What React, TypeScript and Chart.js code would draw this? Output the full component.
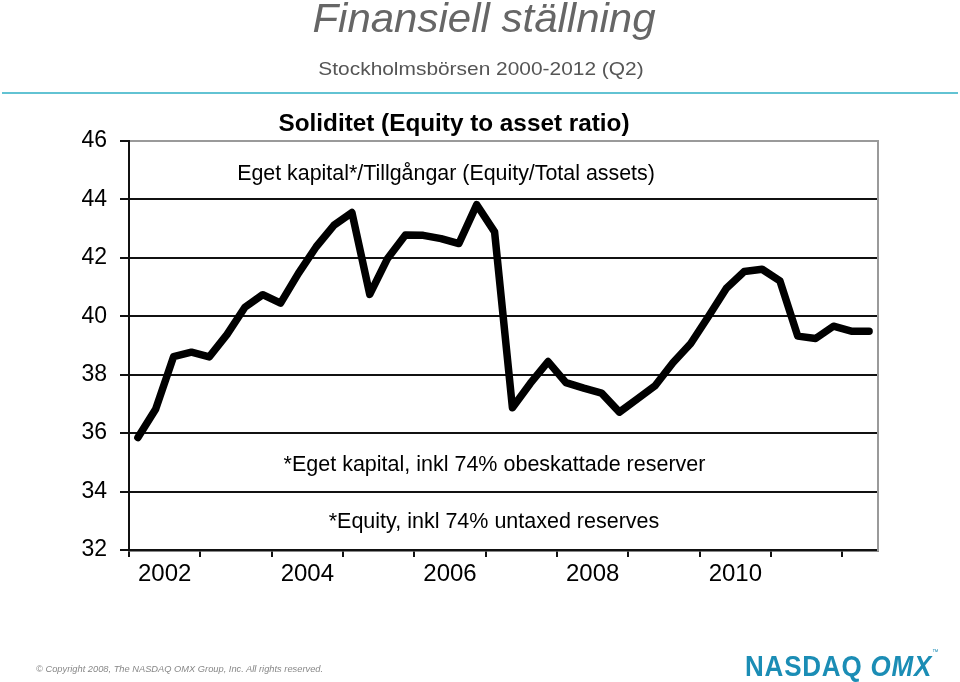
import React, { useEffect, useRef } from "react";
import { Chart, registerables } from "chart.js";

Chart.register(...registerables);

const quarters = [
  "2002 Q1", "2002 Q2", "2002 Q3", "2002 Q4",
  "2003 Q1", "2003 Q2", "2003 Q3", "2003 Q4",
  "2004 Q1", "2004 Q2", "2004 Q3", "2004 Q4",
  "2005 Q1", "2005 Q2", "2005 Q3", "2005 Q4",
  "2006 Q1", "2006 Q2", "2006 Q3", "2006 Q4",
  "2007 Q1", "2007 Q2", "2007 Q3", "2007 Q4",
  "2008 Q1", "2008 Q2", "2008 Q3", "2008 Q4",
  "2009 Q1", "2009 Q2", "2009 Q3", "2009 Q4",
  "2010 Q1", "2010 Q2", "2010 Q3", "2010 Q4",
  "2011 Q1", "2011 Q2", "2011 Q3", "2011 Q4",
  "2012 Q1", "2012 Q2",
];

const equityRatio = [
  35.85, 36.83, 38.62, 38.77,
  38.61, 39.38, 40.31, 40.74,
  40.45, 41.47, 42.38, 43.12,
  43.55, 40.75, 41.98, 42.78,
  42.77, 42.66, 42.49, 43.82,
  42.89, 36.87, 37.7, 38.45,
  37.73, 37.54, 37.37, 36.72,
  37.17, 37.62, 38.41, 39.07,
  40.0, 40.96, 41.53, 41.61,
  41.21, 39.32, 39.24, 39.66,
  39.49, 39.49,
];

const yMin = 32;
const yMax = 46;
const yStep = 2;

const FONT = "'Liberation Sans', Arial, sans-serif";

function TextAt(props: {
  text: React.ReactNode;
  cx: number;
  top: number;
  size: number;
  color?: string;
  weight?: number | string;
  italic?: boolean;
  sx?: number;
  extra?: React.CSSProperties;
}) {
  const { text, cx, top, size, color = "#000", weight = 400, italic = false, sx = 1, extra = {} } = props;
  return (
    <div
      style={{
        position: "absolute",
        left: cx,
        top,
        fontFamily: FONT,
        fontSize: size,
        lineHeight: "normal",
        fontWeight: weight as any,
        fontStyle: italic ? "italic" : "normal",
        color,
        whiteSpace: "nowrap",
        transform: `translateX(-50%) scaleX(${sx})`,
        ...extra,
      }}
    >
      {text}
    </div>
  );
}

export default function App() {
  const canvasRef = useRef<HTMLCanvasElement | null>(null);

  useEffect(() => {
    if (!canvasRef.current) return;
    const points = equityRatio.map((v, i) => ({ x: i + 0.5, y: v }));
    const chart = new Chart(canvasRef.current, {
      type: "line",
      data: {
        datasets: [
          {
            label: "Soliditet",
            data: points,
            borderColor: "#000",
            borderWidth: 7.5,
            pointRadius: 0,
            pointHoverRadius: 0,
            tension: 0,
            fill: false,
            borderCapStyle: "round",
            borderJoinStyle: "round",
          },
        ],
      },
      options: {
        responsive: false,
        animation: false,
        events: [],
        layout: { padding: { top: 141, right: 82, bottom: 87, left: 0 } },
        plugins: {
          legend: { display: false },
          tooltip: { enabled: false },
          title: { display: false },
        },
        scales: {
          x: {
            type: "linear",
            min: 0,
            max: quarters.length,
            afterBuildTicks: (scale: any) => {
              const t = [];
              for (let v = 0; v < quarters.length; v += 2) t.push({ value: v });
              scale.ticks = t;
            },
            afterFit: (scale: any) => {
              scale.height = 45;
            },
            ticks: {
              autoSkip: false,
              maxRotation: 0,
              padding: 3,
              color: "#000",
              font: { family: FONT, size: 24 },
              callback: (value: any) => {
                const v = Number(value);
                if (v % 8 === 2 && quarters[v]) return quarters[v].slice(0, 4);
                return "";
              },
            },
            grid: {
              drawOnChartArea: false,
              drawTicks: true,
              tickLength: 7,
              lineWidth: 2,
              tickColor: (ctx: any) =>
                ctx.tick && ctx.tick.value % 4 === 0 ? "#111" : "rgba(0,0,0,0)",
            },
            border: { display: true, color: "#111", width: 2.5 },
          },
          y: {
            type: "linear",
            min: yMin,
            max: yMax,
            afterFit: (scale: any) => {
              scale.width = 129;
            },
            ticks: {
              stepSize: yStep,
              padding: 13,
              color: "#000",
              font: { family: FONT, size: 23 },
            },
            grid: {
              drawTicks: true,
              tickLength: 9,
              lineWidth: 2,
              color: (ctx: any) =>
                ctx.tick && ctx.tick.value === yMax ? "#9a9a9a" : "#111",
              tickColor: "#111",
            },
            border: { display: true, color: "#111", width: 2 },
          },
          yRight: {
            type: "linear",
            position: "right",
            min: yMin,
            max: yMax,
            afterFit: (scale: any) => {
              scale.width = 0;
            },
            ticks: { display: false },
            grid: { drawOnChartArea: false, drawTicks: false },
            border: { display: true, color: "#9a9a9a", width: 2 },
          },
        },
      } as any,
    });
    return () => chart.destroy();
  }, []);

  return (
    <div
      style={{
        position: "absolute",
        left: 0,
        top: 0,
        width: 960,
        height: 682,
        background: "#fff",
        overflow: "hidden",
      }}
    >
      <canvas
        ref={canvasRef}
        width={960}
        height={682}
        style={{ position: "absolute", left: 0, top: 0, width: 960, height: 682 }}
      />
      <TextAt text="Finansiell ställning" cx={484} top={-4.5} size={40} italic color="#666" sx={1.05} />
      <TextAt text="Stockholmsbörsen 2000-2012 (Q2)" cx={480.5} top={57.5} size={19} color="#555" sx={1.1} />
      <div
        style={{
          position: "absolute",
          left: 2,
          top: 92,
          width: 956,
          height: 2,
          background: "#62c3d3",
        }}
      />
      <TextAt text="Soliditet (Equity to asset ratio)" cx={454} top={109} size={24.3} weight={700} />
      <TextAt text="Eget kapital*/Tillgångar (Equity/Total assets)" cx={446} top={161.3} size={21.4} />
      <TextAt text="*Eget kapital, inkl 74% obeskattade reserver" cx={494.5} top={452} size={21.5} />
      <TextAt text="*Equity, inkl 74% untaxed reserves" cx={494} top={508.5} size={21.5} />
      <div
        style={{
          position: "absolute",
          left: 36,
          top: 664,
          fontFamily: FONT,
          fontSize: 9.3,
          fontStyle: "italic",
          color: "#888",
          whiteSpace: "nowrap",
        }}
      >
        © Copyright 2008, The NASDAQ OMX Group, Inc. All rights reserved.
      </div>
      <div
        style={{
          position: "absolute",
          left: 745,
          top: 648,
          fontFamily: FONT,
          fontSize: 26,
          fontWeight: 900,
          color: "#1b8db5",
          whiteSpace: "nowrap",
          letterSpacing: 0.8,
          transform: "scaleY(1.15)",
          transformOrigin: "left top",
        }}
      >
        NASDAQ <span style={{ fontStyle: "italic" }}>OMX</span>
        <span style={{ fontSize: 6, verticalAlign: "top", fontWeight: 400 }}>™</span>
      </div>
    </div>
  );
}
